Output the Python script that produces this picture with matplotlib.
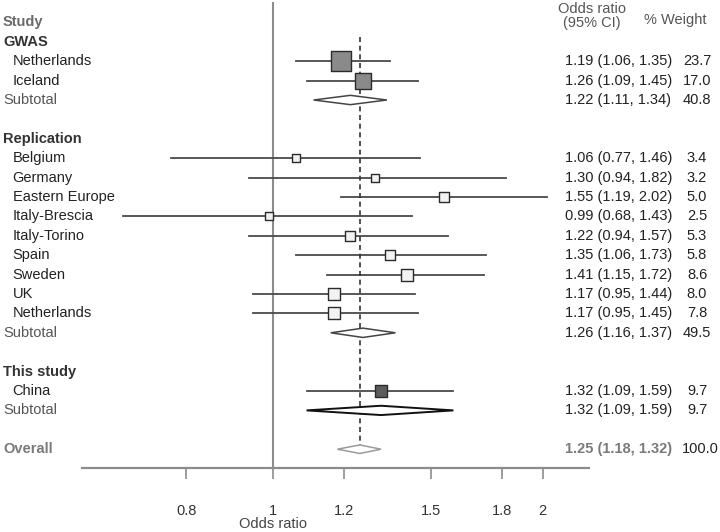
import numpy as np
import matplotlib
matplotlib.use("Agg")
import matplotlib.pyplot as plt
from matplotlib.patches import Polygon
from matplotlib.ticker import NullLocator
from matplotlib.transforms import blended_transform_factory

plt.rcParams['font.family'] = ['Liberation Sans', 'DejaVu Sans']

# ---- data ----
group_names = ["GWAS", "Replication", "This study"]
group_sizes = [2, 9, 1]

study_names = ["Netherlands", "Iceland",
               "Belgium", "Germany", "Eastern Europe", "Italy-Brescia", "Italy-Torino",
               "Spain", "Sweden", "UK", "Netherlands",
               "China"]
study_or = [1.19, 1.26, 1.06, 1.30, 1.55, 0.99, 1.22, 1.35, 1.41, 1.17, 1.17, 1.32]
study_lo = [1.06, 1.09, 0.77, 0.94, 1.19, 0.68, 0.94, 1.06, 1.15, 0.95, 0.95, 1.09]
study_hi = [1.35, 1.45, 1.46, 1.82, 2.02, 1.43, 1.57, 1.73, 1.72, 1.44, 1.45, 1.59]
study_wt = [23.7, 17.0, 3.4, 3.2, 5.0, 2.5, 5.3, 5.8, 8.6, 8.0, 7.8, 9.7]

sub_or = [1.22, 1.26, 1.32]
sub_lo = [1.11, 1.16, 1.09]
sub_hi = [1.34, 1.37, 1.59]
sub_wt = [40.8, 49.5, 9.7]

overall_or, overall_lo, overall_hi, overall_wt = 1.25, 1.18, 1.32, 100.0

x_ticks = [0.8, 1, 1.2, 1.5, 1.8, 2]
x_tick_labels = ["0.8", "1", "1.2", "1.5", "1.8", "2"]

# styles per group
box_face = ["#8a8a8a", "#f2f2f2", "#5c5c5c"]
sub_edge = ["#444444", "#444444", "#111111"]
sub_lw = [1.1, 1.1, 1.4]

# ---- layout ----
W, H = 720, 532
fig = plt.figure(figsize=(7.2, 5.32), dpi=100)
ax_left, ax_right, ax_top, ax_bottom = 82, 589, 0, 468
ax = fig.add_axes([ax_left / W, 1 - ax_bottom / H,
                   (ax_right - ax_left) / W, (ax_bottom - ax_top) / H])
ax.set_xscale('log')
ax.set_xlim(0.612, 2.253)
row0, row_h = 22.4, 19.4
ax.set_ylim((ax_bottom - row0) / row_h, (ax_top - row0) / row_h)
ax.patch.set_alpha(0)

for s in ["top", "left", "right"]:
    ax.spines[s].set_visible(False)
ax.spines["bottom"].set_color("#8c8c8c")
ax.spines["bottom"].set_linewidth(1.6)
ax.set_yticks([])
ax.set_xticks(x_ticks)
ax.set_xticklabels(x_tick_labels)
ax.xaxis.set_minor_locator(NullLocator())
ax.tick_params(axis="x", direction="out", length=8, width=1.2, color="#8c8c8c",
               pad=18, labelsize=10.5, labelcolor="#333333")

tx = blended_transform_factory(fig.transFigure, ax.transData)
lab_x = 3 / W
name_x = 12.7 / W
or_x = 565 / W
wt_x = 697 / W
fs = 10.5
or_font = ['Liberation Sans Narrow', 'Liberation Sans', 'DejaVu Sans']

# headers
ax.text(lab_x, 0, "Study", transform=tx, ha="left", va="center",
        fontsize=fs, fontweight="bold", color="#6a6a6a")
ax.text(592 / W, -0.35, "Odds ratio\n(95% CI)", transform=tx, ha="center", va="center",
        fontsize=fs, color="#555555", linespacing=1.0)
ax.text(675 / W, -0.1, "% Weight", transform=tx, ha="center", va="center",
        fontsize=fs, color="#555555")

# reference lines
ax.axvline(1, ymin=0, ymax=1 - 3 / 468, color="#8c8c8c", lw=1.5, zorder=1)

row = 1
k = 0
for g, name in enumerate(group_names):
    ax.text(lab_x, row, name, transform=tx, ha="left", va="center",
            fontsize=fs, fontweight="bold", color="#333333")
    row += 1
    for _ in range(group_sizes[g]):
        ax.plot([study_lo[k], study_hi[k]], [row, row], color="#4a4a4a", lw=1.3, zorder=2)
        side = 1.09 + 3.74 * np.sqrt(study_wt[k])
        ax.scatter([study_or[k]], [row], marker="s", s=(side * 0.72) ** 2,
                   facecolor=box_face[g], edgecolor="#2a2a2a", linewidths=1.0, zorder=4)
        ax.text(name_x, row, study_names[k], transform=tx, ha="left", va="center",
                fontsize=fs, color="#222222")
        ax.text(or_x, row, f"{study_or[k]:.2f} ({study_lo[k]:.2f}, {study_hi[k]:.2f})",
                transform=tx, ha="left", va="center", fontsize=fs, color="#222222",
                family=or_font)
        ax.text(wt_x, row, f"{study_wt[k]:.1f}", transform=tx, ha="center", va="center",
                fontsize=fs, color="#222222")
        row += 1
        k += 1
    hh = 0.24
    ax.add_patch(Polygon([(sub_lo[g], row), (sub_or[g], row - hh), (sub_hi[g], row),
                          (sub_or[g], row + hh)], closed=True, facecolor="white",
                         edgecolor=sub_edge[g], lw=sub_lw[g], zorder=3))
    ax.text(lab_x, row, "Subtotal", transform=tx, ha="left", va="center",
            fontsize=fs, color="#555555")
    ax.text(or_x, row, f"{sub_or[g]:.2f} ({sub_lo[g]:.2f}, {sub_hi[g]:.2f})",
            transform=tx, ha="left", va="center", fontsize=fs, color="#222222",
            family=or_font)
    ax.text(wt_x, row, f"{sub_wt[g]:.1f}", transform=tx, ha="center", va="center",
            fontsize=fs, color="#222222")
    row += 2

# overall
ax.vlines(overall_or, 0.74, row, colors="#333333", linestyles=(0, (3, 2.2)), lw=1.2, zorder=2)
ax.add_patch(Polygon([(overall_lo, row), (overall_or, row - 0.22), (overall_hi, row),
                      (overall_or, row + 0.22)], closed=True, facecolor="white",
                     edgecolor="#9a9a9a", lw=1.1, zorder=3))
ax.text(lab_x, row, "Overall", transform=tx, ha="left", va="center",
        fontsize=fs, fontweight="bold", color="#7a7a7a")
ax.text(or_x, row, f"{overall_or:.2f} ({overall_lo:.2f}, {overall_hi:.2f})",
        transform=tx, ha="left", va="center", fontsize=fs, fontweight="bold",
        color="#7a7a7a", family=or_font)
ax.text(wt_x + 3 / W, row, f"{overall_wt:.1f}", transform=tx, ha="center", va="center",
        fontsize=fs, color="#222222")

# axis title centred under the null line
ax.text(1, 1 - 524 / H, "Odds ratio",
        transform=blended_transform_factory(ax.transData, fig.transFigure),
        ha="center", va="center", fontsize=fs, color="#444444")

fig.savefig("out.png", dpi=100)
